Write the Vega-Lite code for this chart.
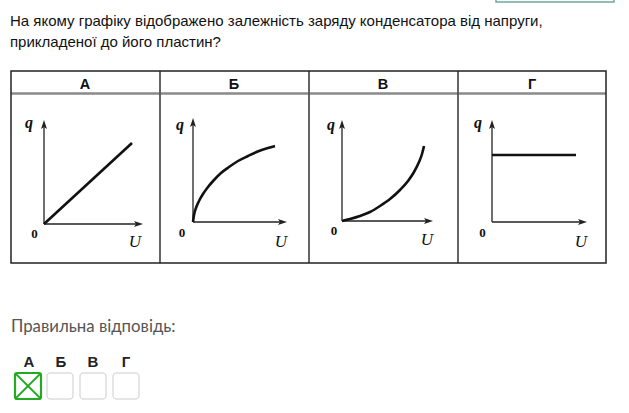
{
  "$schema": "https://vega.github.io/schema/vega-lite/v6.json",
  "width": 629,
  "height": 413,
  "padding": 0,
  "autosize": {"type": "none"},
  "background": "white",
  "config": {"view": {"stroke": null}},
  "encoding": {
    "x": {"type": "quantitative", "scale": {"domain": [0, 629], "nice": false, "zero": false}, "axis": null},
    "y": {"type": "quantitative", "scale": {"domain": [0, 413], "nice": false, "zero": false, "reverse": true}, "axis": null}
  },
  "layer": [
    {
      "data": {"values": [{"x": 496, "y": -5, "x2": 614, "y2": 2}]},
      "mark": {"type": "rect", "fillOpacity": 0, "stroke": "#6fa89a", "strokeWidth": 1.5},
      "encoding": {"x": {"field": "x"}, "y": {"field": "y"}, "x2": {"field": "x2"}, "y2": {"field": "y2"}}
    },
    {
      "data": {"values": [{"x": 11, "y": 93.5, "x2": 606, "y2": 93.5}]},
      "mark": {"type": "rule", "stroke": "#8a8a8a", "strokeWidth": 2.5},
      "encoding": {"x": {"field": "x"}, "y": {"field": "y"}, "x2": {"field": "x2"}, "y2": {"field": "y2"}}
    },
    {
      "data": {"values": [
        {"x": 160, "y": 71, "x2": 160, "y2": 263},
        {"x": 309, "y": 71, "x2": 309, "y2": 263},
        {"x": 458, "y": 71, "x2": 458, "y2": 263}
      ]},
      "mark": {"type": "rule", "stroke": "#555555", "strokeWidth": 1.8},
      "encoding": {"x": {"field": "x"}, "y": {"field": "y"}, "x2": {"field": "x2"}, "y2": {"field": "y2"}}
    },
    {
      "data": {"values": [{"x": 11, "y": 71, "x2": 606, "y2": 263}]},
      "mark": {"type": "rect", "fillOpacity": 0, "stroke": "#222222", "strokeWidth": 1.5},
      "encoding": {"x": {"field": "x"}, "y": {"field": "y"}, "x2": {"field": "x2"}, "y2": {"field": "y2"}}
    },
    {
      "data": {"values": [
        {"x": 44, "y": 125, "x2": 44, "y2": 224},
        {"x": 44, "y": 224, "x2": 138, "y2": 224},
        {"x": 193, "y": 123, "x2": 193, "y2": 222},
        {"x": 193, "y": 222, "x2": 282, "y2": 222},
        {"x": 342, "y": 125, "x2": 342, "y2": 221},
        {"x": 342, "y": 221, "x2": 428, "y2": 221},
        {"x": 492, "y": 125, "x2": 492, "y2": 222},
        {"x": 492, "y": 222, "x2": 582, "y2": 222}
      ]},
      "mark": {"type": "rule", "stroke": "#222222", "strokeWidth": 1.3},
      "encoding": {"x": {"field": "x"}, "y": {"field": "y"}, "x2": {"field": "x2"}, "y2": {"field": "y2"}}
    },
    {
      "data": {"values": [
        {"x": 44, "y": 120}, {"x": 193, "y": 118}, {"x": 342, "y": 120}, {"x": 492, "y": 120}
      ]},
      "mark": {"type": "point", "shape": "M0,0L0.6,1.8L0,1.4L-0.6,1.8Z", "size": 100, "filled": true, "color": "#222222", "opacity": 1, "strokeWidth": 0},
      "encoding": {"x": {"field": "x"}, "y": {"field": "y"}}
    },
    {
      "data": {"values": [
        {"x": 143, "y": 224}, {"x": 287, "y": 222}, {"x": 433, "y": 221}, {"x": 587, "y": 222}
      ]},
      "mark": {"type": "point", "shape": "M0,0L0.6,1.8L0,1.4L-0.6,1.8Z", "size": 100, "angle": 90, "filled": true, "color": "#222222", "opacity": 1, "strokeWidth": 0},
      "encoding": {"x": {"field": "x"}, "y": {"field": "y"}}
    },
    {
      "data": {"values": [
        {"g": "А", "x": 44, "y": 224}, {"g": "А", "x": 132, "y": 143},
        {"g": "Б", "x": 193, "y": 222}, {"g": "Б", "x": 194, "y": 215}, {"g": "Б", "x": 196, "y": 208},
        {"g": "Б", "x": 199, "y": 201}, {"g": "Б", "x": 203, "y": 194}, {"g": "Б", "x": 208, "y": 187},
        {"g": "Б", "x": 214, "y": 180}, {"g": "Б", "x": 221, "y": 173}, {"g": "Б", "x": 229, "y": 167},
        {"g": "Б", "x": 238, "y": 161}, {"g": "Б", "x": 248, "y": 156}, {"g": "Б", "x": 259, "y": 151},
        {"g": "Б", "x": 270, "y": 147.5}, {"g": "Б", "x": 275, "y": 146},
        {"g": "В", "x": 342, "y": 221}, {"g": "В", "x": 350, "y": 219}, {"g": "В", "x": 360, "y": 216},
        {"g": "В", "x": 370, "y": 212}, {"g": "В", "x": 380, "y": 206}, {"g": "В", "x": 390, "y": 199},
        {"g": "В", "x": 400, "y": 190}, {"g": "В", "x": 408, "y": 181}, {"g": "В", "x": 414, "y": 172},
        {"g": "В", "x": 419, "y": 162}, {"g": "В", "x": 422, "y": 154}, {"g": "В", "x": 424, "y": 146},
        {"g": "Г", "x": 492, "y": 155}, {"g": "Г", "x": 576, "y": 155}
      ]},
      "mark": {"type": "line", "color": "#111111", "strokeWidth": 2.6, "interpolate": "monotone"},
      "encoding": {"x": {"field": "x"}, "y": {"field": "y"}, "detail": {"field": "g"}, "order": {"field": "x"}}
    },
    {
      "data": {"values": [
        {"x": 10, "y": 26, "t": "На якому графіку відображено залежність заряду конденсатора від напруги,"},
        {"x": 10, "y": 47, "t": "прикладеної до його пластин?"}
      ]},
      "mark": {"type": "text", "font": "Liberation Sans", "fontSize": 15, "color": "#111111", "align": "left", "baseline": "alphabetic"},
      "encoding": {"x": {"field": "x"}, "y": {"field": "y"}, "text": {"field": "t"}}
    },
    {
      "data": {"values": [
        {"x": 85, "y": 88.5, "t": "А"}, {"x": 234, "y": 88.5, "t": "Б"}, {"x": 383, "y": 88.5, "t": "В"}, {"x": 532, "y": 88.5, "t": "Г"}
      ]},
      "mark": {"type": "text", "font": "Liberation Sans", "fontSize": 14.5, "fontWeight": "bold", "color": "#111111", "align": "center", "baseline": "alphabetic"},
      "encoding": {"x": {"field": "x"}, "y": {"field": "y"}, "text": {"field": "t"}}
    },
    {
      "data": {"values": [
        {"x": 29, "y": 128, "t": "q"}, {"x": 180, "y": 130, "t": "q"}, {"x": 331, "y": 130, "t": "q"}, {"x": 478, "y": 128, "t": "q"}
      ]},
      "mark": {"type": "text", "font": "Liberation Serif", "fontSize": 16, "fontStyle": "italic", "fontWeight": "bold", "color": "#111111", "align": "center", "baseline": "alphabetic"},
      "encoding": {"x": {"field": "x"}, "y": {"field": "y"}, "text": {"field": "t"}}
    },
    {
      "data": {"values": [
        {"x": 34.5, "y": 238, "t": "0"}, {"x": 182, "y": 237, "t": "0"}, {"x": 334, "y": 235, "t": "0"}, {"x": 482.5, "y": 237, "t": "0"}
      ]},
      "mark": {"type": "text", "font": "Liberation Serif", "fontSize": 13, "fontWeight": "bold", "color": "#111111", "align": "center", "baseline": "alphabetic"},
      "encoding": {"x": {"field": "x"}, "y": {"field": "y"}, "text": {"field": "t"}}
    },
    {
      "data": {"values": [
        {"x": 135, "y": 247, "t": "U"}, {"x": 281, "y": 247, "t": "U"}, {"x": 427, "y": 245, "t": "U"}, {"x": 581, "y": 247, "t": "U"}
      ]},
      "mark": {"type": "text", "font": "Liberation Serif", "fontSize": 17, "fontStyle": "italic", "color": "#111111", "align": "center", "baseline": "alphabetic"},
      "encoding": {"x": {"field": "x"}, "y": {"field": "y"}, "text": {"field": "t"}}
    },
    {
      "data": {"values": [{"x": 11, "y": 332, "t": "Правильна відповідь:"}]},
      "mark": {"type": "text", "font": "Lato", "fontSize": 16.8, "color": "#555555", "align": "left", "baseline": "alphabetic"},
      "encoding": {"x": {"field": "x"}, "y": {"field": "y"}, "text": {"field": "t"}}
    },
    {
      "data": {"values": [
        {"x": 29, "y": 367, "t": "А"}, {"x": 61, "y": 367, "t": "Б"}, {"x": 93, "y": 367, "t": "В"}, {"x": 126, "y": 367, "t": "Г"}
      ]},
      "mark": {"type": "text", "font": "Liberation Sans", "fontSize": 15, "fontWeight": "bold", "color": "#222222", "align": "center", "baseline": "alphabetic"},
      "encoding": {"x": {"field": "x"}, "y": {"field": "y"}, "text": {"field": "t"}}
    },
    {
      "data": {"values": [
        {"x": 47, "y": 373, "x2": 73, "y2": 399},
        {"x": 80, "y": 373, "x2": 106, "y2": 399},
        {"x": 113, "y": 373, "x2": 139, "y2": 399}
      ]},
      "mark": {"type": "rect", "fillOpacity": 0, "stroke": "#cccccc", "strokeWidth": 1, "cornerRadius": 3},
      "encoding": {"x": {"field": "x"}, "y": {"field": "y"}, "x2": {"field": "x2"}, "y2": {"field": "y2"}}
    },
    {
      "data": {"values": [
        {"x": 16, "y": 374, "x2": 40, "y2": 398},
        {"x": 40, "y": 374, "x2": 16, "y2": 398}
      ]},
      "mark": {"type": "rule", "stroke": "#22aa22", "strokeWidth": 1.8},
      "encoding": {"x": {"field": "x"}, "y": {"field": "y"}, "x2": {"field": "x2"}, "y2": {"field": "y2"}}
    },
    {
      "data": {"values": [{"x": 15, "y": 373, "x2": 41, "y2": 399}]},
      "mark": {"type": "rect", "fillOpacity": 0, "stroke": "#22aa22", "strokeWidth": 2.2, "cornerRadius": 2},
      "encoding": {"x": {"field": "x"}, "y": {"field": "y"}, "x2": {"field": "x2"}, "y2": {"field": "y2"}}
    }
  ]
}
